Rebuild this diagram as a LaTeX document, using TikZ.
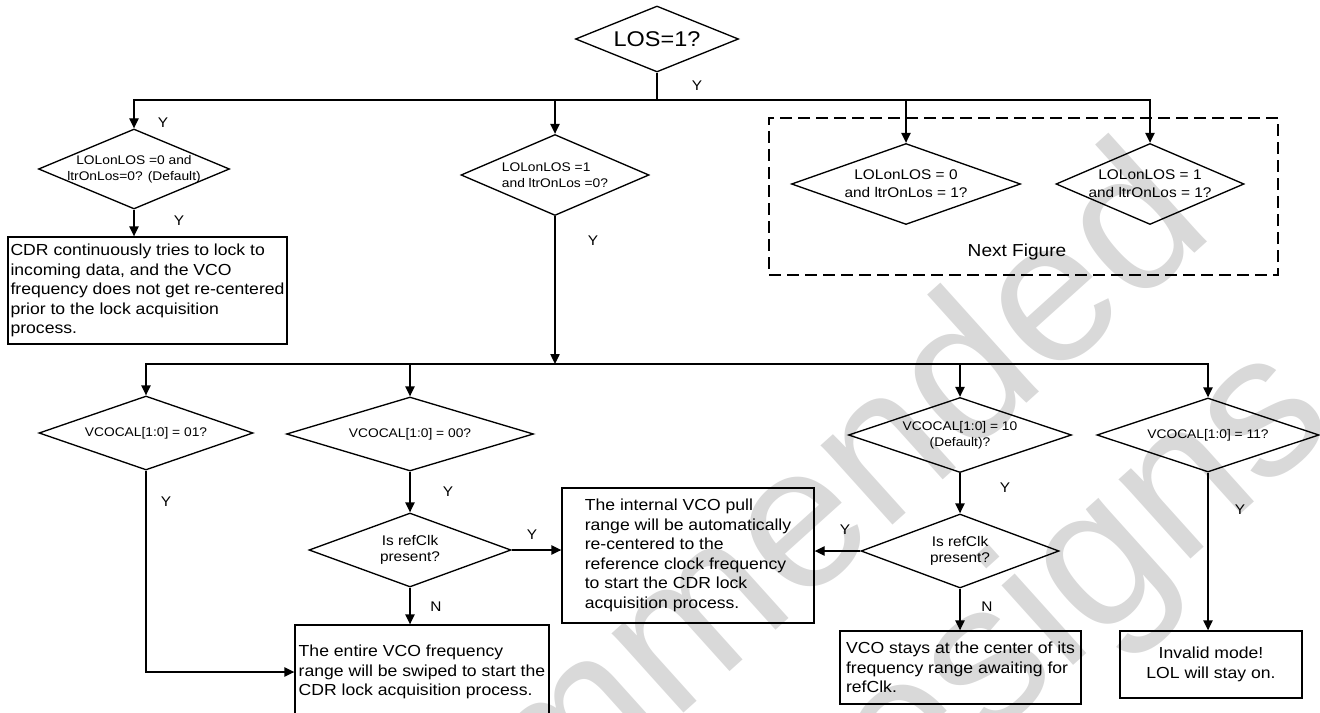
\documentclass[tikz,border=0pt]{standalone}
\usepackage{fontspec}
\setmainfont{Liberation Sans}[FakeStretch=1.1]
\newfontfamily\wmfont{Liberation Sans}
\usetikzlibrary{shapes.geometric,arrows.meta}
\begin{document}
\begin{tikzpicture}[x=0.75pt,y=-0.75pt,line width=1pt,
  dia/.style 2 args={diamond,draw,inner sep=0pt,
    minimum width=#1*0.75pt,minimum height=#2*0.75pt},
  boxn/.style 2 args={rectangle,draw,inner sep=0pt,align=left,
    minimum width=#1*0.75pt,minimum height=#2*0.75pt,
    font=\fontsize{12pt}{14.6pt}\selectfont},
  fsmall/.style={font=\fontsize{9.4pt}{12pt}\selectfont,align=center,inner sep=0pt},
  fmid/.style={font=\fontsize{10.5pt}{13.3pt}\selectfont,align=center,inner sep=0pt},
  fref/.style={font=\fontsize{10.5pt}{12.5pt}\selectfont,align=center,inner sep=0pt},
  lbl/.style={font=\fontsize{10.5pt}{12pt}\selectfont,inner sep=0pt},
  arr/.style={-{Triangle[length=7.5pt,width=7pt]}},
  nextbox/.style={draw,dashed,line width=1.5pt,dash pattern=on 9pt off 4.5pt,
    rectangle,inner sep=0pt,minimum width=#1*0.75pt},
  wm/.style={font=\wmfont\fontsize{152pt}{152pt}\selectfont,text=black!15,
    rotate=42,anchor=base east,inner sep=0pt}
]
\useasboundingbox (0,0) rectangle (1320,713);
\clip (0,0) rectangle (1320,713);
% watermark
\node[wm] (wm1) at (1218,232) {Not recommended};
\node[wm] (wm2) at (1340,425) {for new designs};

% top decision
\node[dia={163}{66}] (los) at (657,39) {};
\node[font=\fontsize{16pt}{18pt}\selectfont,inner sep=0pt] (lost) at (los.center) {LOS=1?};
\coordinate (b1) at (657,100);
\draw (los.south) -- (b1);
\node[lbl] (ylos) at (697,86) {Y};

% first row of decisions
\node[dia={191}{80}] (d1) at (134,169) {};
\node[fsmall] (d1t) at (d1.center) {LOLonLOS =0 and\\ltrOnLos=0? (Default)};
\node[dia={188}{81}] (d2) at (555,175) {};
\node[fsmall,align=left] (d2t) at (d2.center) {LOLonLOS =1\\and ltrOnLos =0?};
\node[nextbox=509,minimum height=157*0.75pt] (nf) at (1023.5,196.5) {};
\node[font=\fontsize{13pt}{15pt}\selectfont,inner sep=0pt] (nft) at (1017,252) {Next Figure};
\node[dia={229}{81}] (d3) at (906,184) {};
\node[fmid] (d3t) at (d3.center) {LOLonLOS = 0\\and ltrOnLos = 1?};
\node[dia={188}{81}] (d4) at (1150,184) {};
\node[fmid] (d4t) at (d4.center) {LOLonLOS = 1\\and ltrOnLos = 1?};

\draw[arr] (b1) -| (d1.north);
\draw[arr] (b1) -| (d2.north);
\draw[arr] (b1) -| (d3.north);
\draw[arr] (b1) -| (d4.north);
\node[lbl] (yd1a) at (163,123) {Y};

\node[boxn={279}{107}] (box1) at (147.5,290.5) {CDR continuously tries to lock to\\incoming data, and the VCO\\frequency does not get re-centered\\prior to the lock acquisition\\process.};
\draw[arr] (d1.south) -- (d1.south |- box1.north);
\node[lbl] (yd1b) at (179,221) {Y};

\coordinate (b2) at (555,364);
\draw[arr] (d2.south) -- (b2);
\node[lbl] (yd2) at (593,241) {Y};

% VCOCAL decisions
\node[dia={214}{74}] (v1) at (146,433) {};
\node[fsmall] (v1t) at (v1.center) {VCOCAL[1:0] = 01?};
\node[dia={247}{74}] (v0) at (410,434) {};
\node[fsmall] (v0t) at (v0.center) {VCOCAL[1:0] = 00?};
\node[dia={223}{75}] (v10) at (960,435) {};
\node[fsmall] (v10t) at (v10.center) {VCOCAL[1:0] = 10\\(Default)?};
\node[dia={222}{74}] (v11) at (1208,435) {};
\node[fsmall] (v11t) at (v11.center) {VCOCAL[1:0] = 11?};
\draw[arr] (b2) -| (v1.north);
\draw[arr] (b2) -| (v0.north);
\draw[arr] (b2) -| (v10.north);
\draw[arr] (b2) -| (v11.north);

% refClk decisions
\node[dia={202}{74}] (r1) at (410,550) {};
\node[fref] (r1t) at (r1.center) {Is refClk\\present?};
\node[dia={198}{74}] (r2) at (960,551) {};
\node[fref] (r2t) at (r2.center) {Is refClk\\present?};

% result boxes
\node[boxn={252}{135}] (internal) at (688,555.5) {The internal VCO pull\\range will be automatically\\re-centered to the\\reference clock frequency\\to start the CDR lock\\acquisition process.};
\node[boxn={254}{94}] (entire) at (422,672) {The entire VCO frequency\\range will be swiped to start the\\CDR lock acquisition process.};
\node[boxn={241}{73}] (vco) at (960.5,667.5) {VCO stays at the center of its\\frequency range awaiting for\\refClk.};
\node[boxn={182}{67},align=center] (inv) at (1211,664.5) {Invalid mode!\\LOL will stay on.};

\draw[arr] (v1.south) |- (entire.west);
\node[lbl] (yv1) at (166,502) {Y};
\draw[arr] (v0.south) -- (r1.north);
\node[lbl] (yv0) at (448,492) {Y};
\draw[arr] (r1.east) -- (r1.east -| internal.west);
\node[lbl] (yr1) at (532,535) {Y};
\draw[arr] (r1.south) -- (r1.south |- entire.north);
\node[lbl] (nr1) at (436,607) {N};
\draw[arr] (v10.south) -- (r2.north);
\node[lbl] (yv10) at (1005,488) {Y};
\draw[arr] (r2.west) -- (r2.west -| internal.east);
\node[lbl] (yr2) at (845,530) {Y};
\draw[arr] (r2.south) -- (r2.south |- vco.north);
\node[lbl] (nr2) at (987,607) {N};
\draw[arr] (v11.south) -- (v11.south |- inv.north);
\node[lbl] (yv11) at (1240,510) {Y};
\end{tikzpicture}
\end{document}
